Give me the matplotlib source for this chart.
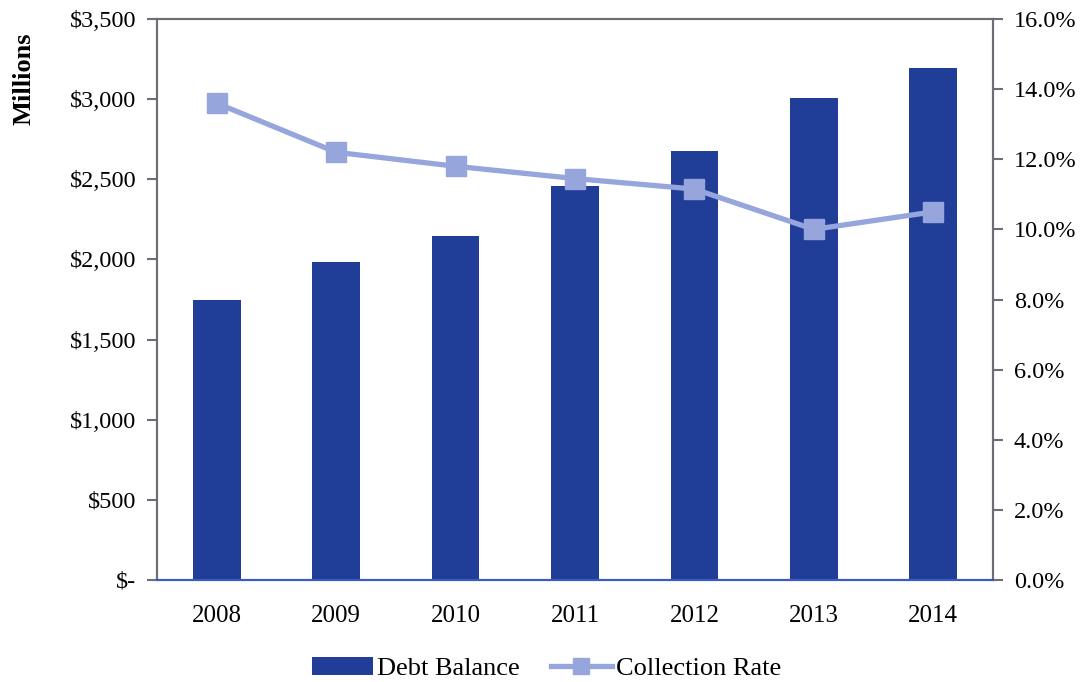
import numpy as np
import matplotlib.pyplot as plt
from matplotlib.ticker import FuncFormatter, MultipleLocator

# datos
years = ["2008", "2009", "2010", "2011", "2012", "2013", "2014"]
debt_balance = [1745, 1982, 2148, 2458, 2675, 3010, 3195]   # millones
collection_rate = [13.6, 12.2, 11.8, 11.45, 11.15, 10.0, 10.5]  # %

bar_color = "#203d98"
line_color = "#96a6dc"
axis_gray = "#6d6d75"

plt.rcParams['font.family'] = ['Liberation Serif', 'DejaVu Serif']

fig = plt.figure(figsize=(10.82, 6.82), dpi=100)
ax = fig.add_axes([0.1451, 0.1496, 0.7726, 0.8225])
ax2 = ax.twinx()

x = np.arange(len(years))
b = ax.bar(x, debt_balance, width=0.4, color=bar_color, label="Debt Balance", zorder=2)
l, = ax2.plot(x, collection_rate, color=line_color, lw=3.8, marker="s", ms=14.5,
              label="Collection Rate", zorder=3)

ax.set_xlim(-0.5, 6.5)
ax.set_ylim(0, 3500)
ax2.set_ylim(0, 16)
ax.yaxis.set_major_locator(MultipleLocator(500))
ax2.yaxis.set_major_locator(MultipleLocator(2))

def money(v, pos):
    if v == 0:
        return "$-"
    return "${:,.0f}".format(v)

ax.yaxis.set_major_formatter(FuncFormatter(money))
ax2.yaxis.set_major_formatter(FuncFormatter(lambda v, p: "{:.1f}%".format(v)))

ax.set_xticks(x)
ax.set_xticklabels(years, fontsize=18)
ax.tick_params(axis="x", length=0, pad=18)
ax.tick_params(axis="y", labelsize=17.5, length=7, width=1.5, color=axis_gray, pad=8)
ax2.tick_params(axis="y", labelsize=17.5, length=7, width=1.5, color=axis_gray, pad=8)

for a in (ax, ax2):
    for s in ("left", "right", "top"):
        a.spines[s].set_color(axis_gray)
        a.spines[s].set_linewidth(1.5)
    a.spines["bottom"].set_color("#3a5cc0")
    a.spines["bottom"].set_linewidth(1.5)

fig.text(0.022, 0.885, "Millions", rotation=90, fontsize=19, fontweight="bold",
         ha="center", va="center")

fig.legend([b, l], ["Debt Balance", "Collection Rate"], loc="center",
           bbox_to_anchor=(0.505, 0.02), ncol=2, frameon=False, fontsize=19,
           handlelength=2.3, handletextpad=0.15, columnspacing=1.2, markerscale=0.8)

fig.savefig("out.png", dpi=100)
